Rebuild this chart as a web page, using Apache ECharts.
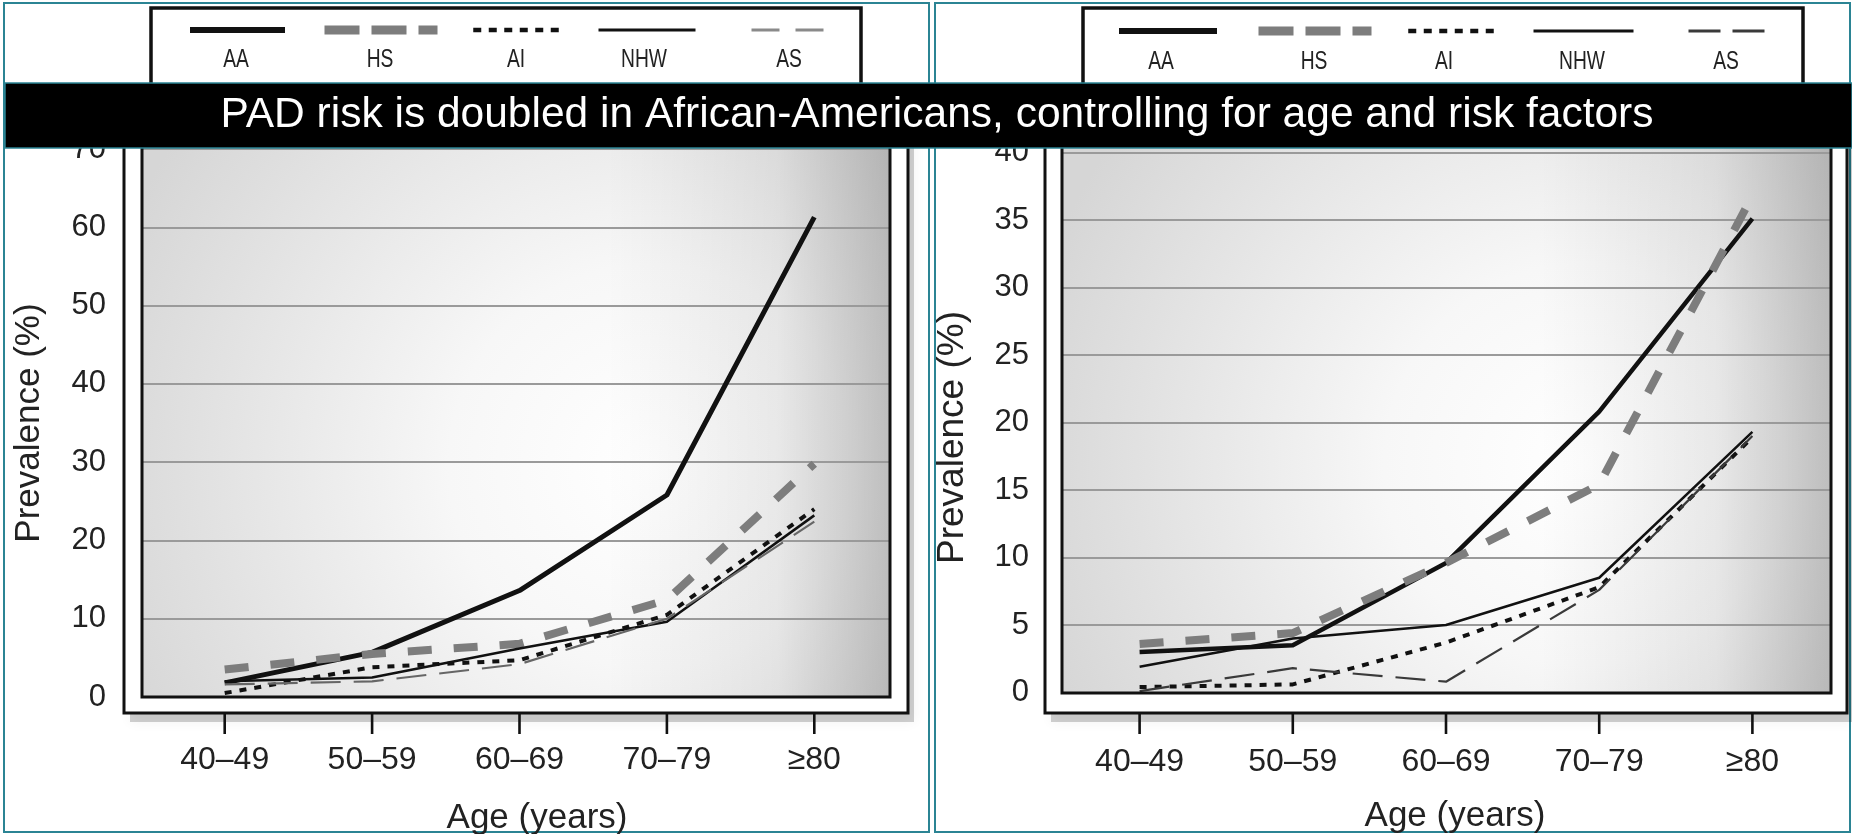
<!DOCTYPE html>
<html>
<head>
<meta charset="utf-8">
<script src="https://cdn.jsdelivr.net/npm/echarts@6/dist/echarts.min.js"></script>
<style>
  html, body { margin: 0; padding: 0; background: #ffffff; }
  #chart { width: 1852px; height: 834px; }
</style>
</head>
<body>
<div id="chart"></div>
<script>
// ---------------- DATA ----------------
const categories = ['40–49', '50–59', '60–69', '70–79', '≥80'];
const seriesNames = ['AA', 'HS', 'AI', 'NHW', 'AS'];

// Left panel (prevalence %, y axis 0–70)
const leftAA  = [1.8, 5.7, 13.6, 25.8, 61.3];
const leftHS  = [3.5, 5.5, 6.8, 12.4, 29.8];
const leftAI  = [0.5, 3.8, 4.7, 10.5, 24.0];
const leftNHW = [2.0, 2.5, 6.2, 9.6, 23.2];
const leftAS  = [1.6, 2.0, 4.2, 10.0, 22.4];

// Right panel (prevalence %, y axis 0–40)
const rightAA  = [3.0, 3.5, 9.6, 20.8, 35.1];
const rightHS  = [3.6, 4.4, 9.6, 15.4, 36.8];
const rightAI  = [0.4, 0.6, 3.7, 7.8, 18.9];
const rightNHW = [1.9, 4.0, 5.0, 8.5, 19.3];
const rightAS  = [0.1, 1.8, 0.8, 7.6, 19.0];

const leftYAxisTicks = { min: 0, max: 70, interval: 10 };
const rightYAxisTicks = { min: 0, max: 40, interval: 5 };

const titleText = 'PAD risk is doubled in African-Americans, controlling for age and risk factors';
const xAxisTitle = 'Age (years)';
const yAxisTitle = 'Prevalence (%)';

// ---------------- STYLE ----------------
const FONT = 'Liberation Sans, Arial, Helvetica, sans-serif';
const TEAL = '#2b8494';
const TEXT = '#222222';

const leftData = [leftAA, leftHS, leftAI, leftNHW, leftAS];
const rightData = [rightAA, rightHS, rightAI, rightNHW, rightAS];

const lineStylesLeft = [
  { color: '#111111', width: 5, type: 'solid' },
  { color: '#7d7d7d', width: 8, type: [24, 22] },
  { color: '#111111', width: 4, type: [7, 8] },
  { color: '#111111', width: 2.5, type: 'solid' },
  { color: '#666666', width: 2.2, type: [30, 13] }
];
const lineStylesRight = [
  { color: '#111111', width: 4.5, type: 'solid' },
  { color: '#7d7d7d', width: 8, type: [24, 22] },
  { color: '#111111', width: 4, type: [7, 8] },
  { color: '#111111', width: 2.5, type: 'solid' },
  { color: '#3a3a3a', width: 2.2, type: [30, 13] }
];

// legend sample positions [left, width, labelCenter]
const legendLeft = {
  y: 30, labelY: 60,
  items: [[187, 95, 236], [320, 113, 380], [471, 86, 516], [597, 97, 644], [750, 77, 789]],
  styles: [
    { color: '#111111', width: 6, type: 'solid' },
    { color: '#7d7d7d', width: 9, type: [35, 12] },
    { color: '#111111', width: 4.5, type: [8, 7.5] },
    { color: '#111111', width: 3, type: 'solid' },
    { color: '#8a8a8a', width: 3, type: [28, 16] }
  ]
};
const legendRight = {
  y: 31, labelY: 62,
  items: [[1116, 98, 1161], [1254, 113, 1314], [1406, 88, 1444], [1532, 100, 1582], [1687, 77, 1726]],
  styles: [
    { color: '#111111', width: 6, type: 'solid' },
    { color: '#7d7d7d', width: 9, type: [35, 12] },
    { color: '#111111', width: 4.5, type: [8, 7.5] },
    { color: '#111111', width: 3, type: 'solid' },
    { color: '#3a3a3a', width: 3, type: [32, 12] }
  ]
};

function plotGradient() {
  return new echarts.graphic.RadialGradient(0.68, 0.6, 1.0, [
    { offset: 0, color: '#ffffff' },
    { offset: 0.35, color: '#f7f7f7' },
    { offset: 1, color: '#d6d6d6' }
  ]);
}
function edgeShade() {
  return new echarts.graphic.LinearGradient(0, 0, 1, 0, [
    { offset: 0, color: 'rgba(0,0,0,0)' },
    { offset: 0.62, color: 'rgba(0,0,0,0)' },
    { offset: 0.85, color: 'rgba(0,0,0,0.07)' },
    { offset: 1, color: 'rgba(0,0,0,0.22)' }
  ]);
}

// ---------------- GRIDS ----------------
const G = { outerBoundsMode: 'none', containLabel: false };
const grids = [
  Object.assign({ left: 142, top: 149, width: 748, height: 548 }, G),        // 0 left frame grid (y labels, grid lines)
  Object.assign({ left: 151, top: 149, width: 737, height: 548 }, G),        // 1 left data grid
  Object.assign({ left: 224.7, top: 713, width: 589.6, height: 20 }, G),     // 2 left label strip below outer frame
  Object.assign({ left: 1062, top: 152.5, width: 769, height: 540 }, G),     // 3 right frame grid
  Object.assign({ left: 1063, top: 152.5, width: 766, height: 540 }, G),     // 4 right data grid
  Object.assign({ left: 1139.6, top: 713, width: 612.8, height: 20 }, G)     // 5 right label strip
];

const legends = [];
const graphics = [];

function addLegend(cfg) {
  seriesNames.forEach((name, i) => {
    const [x, w, lx] = cfg.items[i];
    legends.push({
      data: [name],
      left: x, top: cfg.y - 6,
      itemWidth: w, itemHeight: 12,
      itemGap: 0, padding: 0,
      selectedMode: false,
      formatter: () => '',
      textStyle: { fontSize: 1 },
      itemStyle: { opacity: 0 },
      lineStyle: { color: cfg.styles[i].color, width: cfg.styles[i].width, type: cfg.styles[i].type, cap: 'butt' },
      z: 8
    });
    graphics.push({
      type: 'text', z: 8, x: lx, y: cfg.labelY, scaleX: 0.74, scaleY: 1,
      style: { x: 0, y: 0, text: name, fill: TEXT, font: '26px ' + FONT, textAlign: 'center', textVerticalAlign: 'middle' }
    });
  });
}
addLegend(legendLeft);
addLegend(legendRight);

graphics.push(
  // panel frames
  { type: 'rect', z: 0, shape: { x: 4, y: 3, width: 925, height: 829 }, style: { fill: null, stroke: TEAL, lineWidth: 2 } },
  { type: 'rect', z: 0, shape: { x: 935, y: 3, width: 915, height: 829 }, style: { fill: null, stroke: TEAL, lineWidth: 2 } },
  // legend boxes
  { type: 'rect', z: 1, shape: { x: 151, y: 8, width: 710, height: 120 }, style: { fill: '#ffffff', stroke: '#111', lineWidth: 3.5 } },
  { type: 'rect', z: 1, shape: { x: 1083, y: 8, width: 720, height: 120 }, style: { fill: '#ffffff', stroke: '#111', lineWidth: 3.5 } },
  // soft drop shadows
  { type: 'rect', z: 0, shape: { x: 130, y: 110, width: 784, height: 612 },
    style: { fill: 'rgba(0,0,0,0.18)', shadowBlur: 12, shadowColor: 'rgba(0,0,0,0.3)' } },
  { type: 'rect', z: 0, shape: { x: 1051, y: 110, width: 802, height: 612 },
    style: { fill: 'rgba(0,0,0,0.18)', shadowBlur: 12, shadowColor: 'rgba(0,0,0,0.3)' } },
  // outer plot frames
  { type: 'rect', z: 1, shape: { x: 124, y: 100, width: 784, height: 613 }, style: { fill: '#ffffff', stroke: '#111', lineWidth: 3 } },
  { type: 'rect', z: 1, shape: { x: 1045, y: 100, width: 802, height: 613 }, style: { fill: '#ffffff', stroke: '#111', lineWidth: 3 } },
  // inner plot fills
  { type: 'rect', z: 2, shape: { x: 142, y: 120, width: 748, height: 577 }, style: { fill: plotGradient() } },
  { type: 'rect', z: 2, shape: { x: 1062, y: 120, width: 769, height: 573 }, style: { fill: plotGradient() } },
  { type: 'rect', z: 2, shape: { x: 142, y: 120, width: 748, height: 577 }, style: { fill: edgeShade() } },
  { type: 'rect', z: 2, shape: { x: 1062, y: 120, width: 769, height: 573 }, style: { fill: edgeShade() } },
  // inner plot borders (above grid lines)
  { type: 'rect', z: 6, shape: { x: 142, y: 120, width: 748, height: 577 }, style: { fill: null, stroke: '#111', lineWidth: 3 } },
  { type: 'rect', z: 6, shape: { x: 1062, y: 120, width: 769, height: 573 }, style: { fill: null, stroke: '#111', lineWidth: 3 } },
  // title band
  { type: 'rect', z: 20, shape: { x: 5, y: 83, width: 1847, height: 65 }, style: { fill: '#000000', stroke: TEAL, lineWidth: 1.5 } }
);

// Tick marks below the outer frames: at the band centres of the category data axes
// (same ordinal layout the category axis uses: left + width * (i + 0.5) / n)
[grids[1], grids[4]].forEach(g => {
  categories.forEach((cat, i) => {
    const px = g.left + g.width * (i + 0.5) / categories.length;
    graphics.push({
      type: 'rect', z: 30, silent: true,
      shape: { x: px - 1.3, y: 714, width: 2.6, height: 20 },
      style: { fill: '#111111' }
    });
  });
});

// ---------------- AXES ----------------
function hiddenValueX(gi) { return { type: 'value', gridIndex: gi, show: false, min: 0, max: 1 }; }
function hiddenValueY(gi) { return { type: 'value', gridIndex: gi, show: false, min: 0, max: 1, splitLine: { show: false } }; }
function hiddenCatX(gi) { return { type: 'category', gridIndex: gi, data: categories, boundaryGap: true, show: false }; }
function labelX(gi, margin, namePad, nameGap) {
  return {
    type: 'category', gridIndex: gi, data: categories, boundaryGap: false, z: 3, position: 'bottom',
    axisLine: { show: false, onZero: false },
    axisTick: { show: false },
    axisLabel: { show: true, interval: 0, margin: margin, fontSize: 32, color: TEXT, fontFamily: FONT },
    splitLine: { show: false },
    name: xAxisTitle, nameLocation: 'middle', nameGap: nameGap,
    nameTextStyle: { fontSize: 35, color: TEXT, fontFamily: FONT, padding: [0, 0, 0, namePad] }
  };
}
function frameY(gi, ticks, labelMargin, nameGap, nameSize, namePad) {
  return {
    type: 'value', gridIndex: gi, min: ticks.min, max: ticks.max, interval: ticks.interval, z: 3,
    axisLine: { show: false }, axisTick: { show: false },
    axisLabel: { margin: labelMargin, fontSize: 31, color: TEXT, fontFamily: FONT },
    splitLine: { show: true, lineStyle: { color: '#9a9a9a', width: 2 } },
    name: yAxisTitle, nameLocation: 'middle', nameGap: nameGap,
    nameTextStyle: { fontSize: nameSize, color: TEXT, fontFamily: FONT, padding: namePad }
  };
}
function dataY(gi, ticks) {
  return { type: 'value', gridIndex: gi, min: ticks.min, max: ticks.max, interval: ticks.interval, show: false, splitLine: { show: false } };
}

const xAxes = [
  hiddenValueX(0), hiddenCatX(1), labelX(2, 11, 35, 68),
  hiddenValueX(3), hiddenCatX(4), labelX(5, 13, 18, 66)
];
const yAxes = [
  frameY(0, leftYAxisTicks, 36, 95, 35, [0, 0, 0, 0]),
  dataY(1, leftYAxisTicks),
  hiddenValueY(2),
  frameY(3, rightYAxisTicks, 33, 91, 37, [0, 30, 0, 0]),
  dataY(4, rightYAxisTicks),
  hiddenValueY(5)
];

const series = [];
seriesNames.forEach((name, i) => {
  series.push({
    name: name, type: 'line', xAxisIndex: 1, yAxisIndex: 1, data: leftData[i],
    symbol: 'none', z: 5, silent: true, animation: false,
    lineStyle: { color: lineStylesLeft[i].color, width: lineStylesLeft[i].width, type: lineStylesLeft[i].type, join: 'round' }
  });
  series.push({
    name: name, type: 'line', xAxisIndex: 4, yAxisIndex: 4, data: rightData[i],
    symbol: 'none', z: 5, silent: true, animation: false,
    lineStyle: { color: lineStylesRight[i].color, width: lineStylesRight[i].width, type: lineStylesRight[i].type, join: 'round' }
  });
});

const chart = echarts.init(document.getElementById('chart'), null, { renderer: 'canvas' });
chart.setOption({
  animation: false,
  backgroundColor: '#ffffff',
  title: {
    text: titleText, left: 937, top: 94, textAlign: 'center', padding: 0, z: 21,
    textStyle: { color: '#ffffff', fontSize: 42.5, fontWeight: 'normal', fontFamily: FONT }
  },
  legend: legends,
  grid: grids,
  xAxis: xAxes,
  yAxis: yAxes,
  series: series,
  graphic: graphics
});
</script>
</body>
</html>
